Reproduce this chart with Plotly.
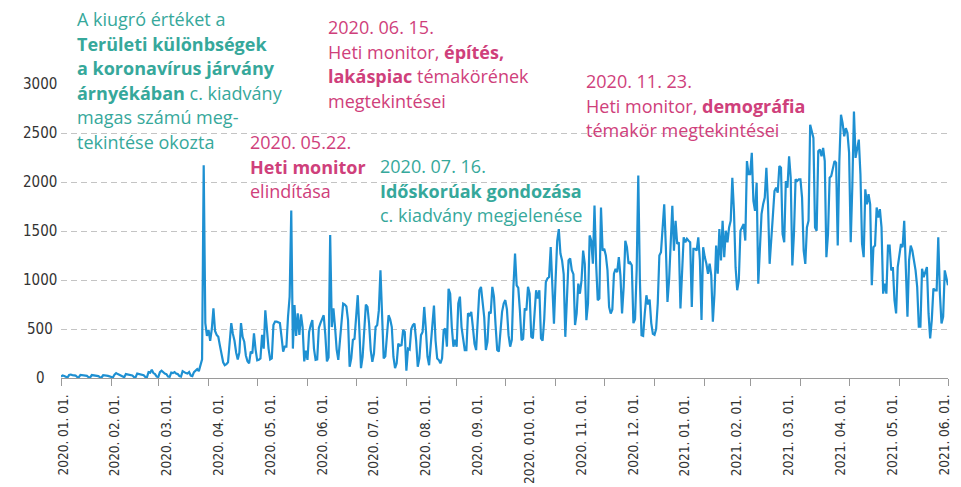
import pandas as pd
import plotly.graph_objects as go

# ---------------- data (daily page views) ----------------
jan20 = [15,25,20,8,5,30,35,30,28,25,10,8,32,30,28,25,22,8,6,30,28,25,22,20,8,5,28,30,25,22,18]
feb20 = [8,5,35,50,40,30,25,10,8,40,35,30,30,25,10,8,45,40,35,30,28,10,8,60,55,85,50,40,15]
mar20 = [10,60,75,55,45,40,15,12,55,50,60,45,40,20,15,70,55,50,45,60,25,20,60,75,90,70,130,190,2170,560,430]
apr20 = [490,380,500,710,480,440,420,330,260,160,130,140,160,330,560,450,380,260,190,260,560,420,370,230,170,150,270,250,455,290]
may20 = [180,185,200,440,300,690,470,300,190,200,540,575,575,570,560,420,270,320,320,625,830,1710,300,745,430,660,440,650,520,170,280]
jun20 = [185,470,540,590,300,185,190,510,560,610,640,440,170,210,1460,520,710,520,290,185,400,540,760,750,730,590,115,200,390,400]
jul20 = [590,845,490,100,215,520,750,725,555,285,165,250,520,540,690,1100,690,200,220,455,640,600,520,217,100,150,350,330,335,490,470]
aug20 = [75,300,290,500,540,555,385,115,200,437,470,725,500,217,130,320,540,740,380,200,183,150,200,490,505,320,910,860,520,320,390]
sep20 = [320,760,830,520,390,285,285,660,640,675,520,350,285,580,895,930,800,620,285,370,675,660,930,830,540,285,270,520,675,760]
oct20 = [795,700,437,320,390,930,1270,945,920,690,385,400,710,690,930,860,420,405,690,895,810,895,405,380,600,980,1015,1030,1335,860,555]
nov20 = [1000,1400,1520,1270,1200,1060,420,790,1200,1220,1100,1060,540,660,963,860,995,1300,1166,590,760,1455,1400,1166,1760,1166,793,810,1740,1300]
dec20 = [1320,1250,1100,725,658,700,1065,1115,1080,1234,1045,658,930,1400,1335,1166,1180,1150,560,600,1100,2065,1000,437,430,658,844,750,800,560,450]
jan21 = [440,500,760,1250,1284,1503,1773,1340,777,1000,1436,1757,1300,1605,1368,1385,709,1165,1436,1385,1420,1400,1385,726,1317,1317,1300,1436,1200,591,1334]
feb21 = [1234,1166,1064,1166,1047,574,861,1351,1064,1520,1200,1605,1233,1503,1385,1537,1605,2044,1706,1131,895,997,1503,1537,1571,1402,2213,2080]
mar21 = [2080,2297,1807,1706,1993,963,1335,1672,1773,1841,2145,1773,1165,1469,1655,1909,1942,1892,2162,2145,1469,1385,2010,1942,2263,2044,1148,1469,2027,2010,2027]
apr21 = [2027,1841,1300,1165,1537,1605,2584,2517,2449,1537,1503,2314,2331,2263,2348,2213,1233,1469,2044,2061,2145,2213,2196,1351,2213,2686,2601,2466,2550,2500]
may21 = [2300,1385,1960,2719,2246,2348,2432,2078,1368,1233,1925,1773,1875,1773,946,1335,1351,1740,1638,1723,1537,861,963,861,1351,1351,1098,1131,794,659,1131]
jun21 = [1250,1368,1335,1605,1115,625,1200,1351,1300,1200,1098,929,524,524,1115,1030,1081,1131,659,405,591,912,895,895,1436,861,557,625,1098,1030]
jul21 = [946]

month_ticks = ["2020-01-01","2020-02-01","2020-03-01","2020-04-01","2020-05-01","2020-06-01",
               "2020-07-01","2020-08-01","2020-09-01","2020-10-01","2020-11-01","2020-12-01",
               "2021-01-01","2021-02-01","2021-03-01","2021-04-01","2021-05-01","2021-06-01",
               "2021-07-01"]
x_labels = ["2020. 01. 01.","2020. 02. 01.","2020. 03. 01.","2020. 04. 01.","2020. 05. 01.",
            "2020. 06. 01.","2020. 07. 01.","2020. 08. 01.","2020. 09. 01.","2020. 010. 01.",
            "2020. 11. 01.","2020. 12. 01.","2021. 01. 01.","2021. 02. 01.","2021. 03. 01.",
            "2021. 04. 01.","2021. 05. 01.","2021. 06. 01."]
y_ticks = [0, 500, 1000, 1500, 2000, 2500, 3000]

values = (jan20 + feb20 + mar20 + apr20 + may20 + jun20 + jul20 + aug20 + sep20 + oct20 +
          nov20 + dec20 + jan21 + feb21 + mar21 + apr21 + may21 + jun21 + jul21)
dates = pd.date_range("2020-01-01", periods=len(values), freq="D")

# ---------------- style ----------------
OFF = 8                      # default page (body) margin around the plot div
WIN_W, WIN_H = 961, 487
PL, PR, PT, PB = 61, 948, 84, 378   # plot area in page pixels
PW, PH = PR - PL, PB - PT
TEAL = "#36a89b"
PINK = "#cf407b"
BLUE = "#1e90d2"
AXIS_FONT = "Liberation Sans Narrow, DejaVu Sans Condensed, Arial Narrow, sans-serif"
TEXT_FONT = "Open Sans, Lato, sans-serif"

fig = go.Figure()
fig.add_trace(go.Scatter(x=dates, y=values, mode="lines",
                         line=dict(color=BLUE, width=2.2), hoverinfo="skip",
                         showlegend=False))

fig.update_layout(
    width=WIN_W - OFF, height=WIN_H - OFF,
    margin=dict(l=PL - OFF, r=WIN_W - PR, t=PT - OFF, b=WIN_H - PB),
    paper_bgcolor="white", plot_bgcolor="white",
    xaxis=dict(type="date", range=[month_ticks[0], month_ticks[-1]],
               tickvals=month_ticks, showticklabels=False,
               ticks="outside", ticklen=7, tickcolor="#9a9a9a", tickwidth=1,
               showline=True, linecolor="#9a9a9a", linewidth=1.3,
               showgrid=False, zeroline=False),
    yaxis=dict(range=[0, 3000], tickvals=y_ticks, showticklabels=False,
               showgrid=True, gridcolor="#c4c4c4", gridwidth=1, griddash="6px,4px",
               zeroline=False, showline=False, ticks=""),
)


def px(x):
    return (x - PL) / PW


def py(y):
    return (PB - y) / PH


# y tick labels, centred like in the reference
for v in y_ticks:
    fig.add_annotation(x=px(40), xref="paper", y=v, yref="y", text=str(v),
                       showarrow=False, xanchor="center", yanchor="middle",
                       font=dict(family=AXIS_FONT, size=15, color="#333333"))

# x tick labels: evenly spaced under the month ticks, as in the reference
n = len(x_labels)
for i, lab in enumerate(x_labels):
    xc = 62 + i * (943 - 62) / (n - 1)
    fig.add_annotation(x=px(xc), xref="paper", y=py(394), yref="paper", text=lab,
                       textangle=-90, showarrow=False, xanchor="center", yanchor="top",
                       borderpad=0,
                       font=dict(family=AXIS_FONT, size=13.5, color="#333333"))


def block(x, y0, step, lines, color):
    for i, t in enumerate(lines):
        fig.add_annotation(x=px(x), y=py(y0 + i * step), xref="paper", yref="paper",
                           text=t, showarrow=False, xanchor="left", yanchor="middle",
                           borderpad=0,
                           font=dict(family=TEXT_FONT, size=18, color=color))


block(76, 19, 24.5, ["A kiugró értéket a",
                     "<b>Területi különbségek</b>",
                     "<b>a koronavírus járvány</b>",
                     "<b>árnyékában</b> c. kiadvány",
                     "magas számú meg-",
                     "tekintése okozta"], TEAL)
block(327, 27, 24.6, ["2020. 06. 15.",
                      "Heti monitor, <b>építés,</b>",
                      "<b>lakáspiac</b> témakörének",
                      "megtekintései"], PINK)
block(249, 142, 24.5, ["2020. 05.22.",
                       "<b>Heti monitor</b>",
                       "elindítása"], PINK)
block(379, 166, 24.5, ["2020. 07. 16.",
                       "<b>Időskorúak gondozása</b>",
                       "c. kiadvány megjelenése"], TEAL)
block(585, 81, 24.5, ["2020. 11. 23.",
                      "Heti monitor, <b>demográfia</b>",
                      "témakör megtekintései"], PINK)

fig.write_html("out.html")
